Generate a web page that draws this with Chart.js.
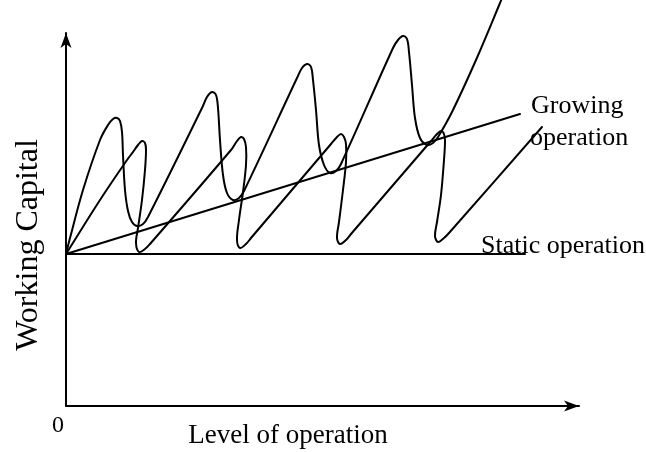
<!DOCTYPE html>
<html>
<head>
<meta charset="utf-8">
<script src="https://cdn.jsdelivr.net/npm/chart.js@4/dist/chart.umd.min.js"></script>
<style>
html,body{margin:0;padding:0;background:#fff;}
canvas{display:block;}
</style>
</head>
<body>
<canvas id="c" width="646" height="452"></canvas>
<script>
// ---- data (x = level of operation, y = working capital; arbitrary units) ----
const yAxisLine = [{x:0,y:0},{x:0,y:373}];
const xAxisLine = [{x:0,y:0},{x:513,y:0}];
const arrowTips = [{x:513,y:0},{x:0,y:373}];
const arrowRotations = [0,-90];
const staticLine = [{x:0,y:152},{x:459,y:152}];
const growingLine = [{x:0,y:152},{x:454,y:292}];
const waveGrowing = [
  {x:0,y:152},{x:4,y:168},{x:17,y:216},{x:34,y:266},{x:42,y:281},{x:47,y:287},
  {x:51,y:288},{x:54,y:285},{x:56,y:274},{x:57,y:251},{x:59,y:216},{x:62,y:195},{x:66,y:184},
  {x:71,y:180},{x:77,y:182},{x:82,y:189},
  {x:136,y:298},{x:141,y:309},{x:146,y:314},{x:150,y:311},{x:152,y:298},{x:154,y:266},{x:157,y:231},
  {x:161,y:213},{x:167,y:206},{x:173,y:208},{x:178,y:215},
  {x:231,y:328},{x:236,y:338},{x:241,y:342},{x:245,y:339},{x:247,y:326},{x:250,y:296},{x:253,y:261},
  {x:258,y:241},{x:264,y:233},{x:270,y:235},{x:275,y:242},
  {x:327,y:358},{x:332,y:366},{x:337,y:370},{x:341,y:367},{x:343,y:354},{x:346,y:321},{x:349,y:288},
  {x:354,y:268},{x:361,y:261},{x:367,y:263},{x:372,y:269},
  {x:386,y:294},{x:410,y:346},{x:434,y:403},{x:440,y:418}
];
const waveStatic = [
  {x:0,y:152},{x:34,y:206},{x:61,y:246},{x:67,y:254},{x:72,y:261},
  {x:76,y:265},{x:79,y:263},{x:80,y:256},{x:79,y:236},{x:76,y:206},{x:72,y:178},{x:70,y:163},
  {x:73,y:154},{x:79,y:157},{x:84,y:162},
  {x:165,y:256},{x:171,y:265},{x:175,y:269},{x:178,y:267},{x:180,y:259},{x:180,y:241},{x:177,y:214},
  {x:173,y:186},{x:171,y:166},{x:174,y:158},{x:180,y:162},{x:185,y:168},
  {x:265,y:262},{x:271,y:269},{x:275,y:272},{x:278,y:269},{x:280,y:262},{x:280,y:244},{x:277,y:216},
  {x:273,y:184},{x:271,y:168},{x:274,y:162},{x:280,y:166},{x:285,y:172},
  {x:365,y:265},{x:371,y:272},{x:375,y:275},{x:378,y:272},{x:379,y:265},{x:378,y:246},{x:375,y:211},
  {x:371,y:184},{x:369,y:170},{x:372,y:164},{x:378,y:168},{x:383,y:173},
  {x:476,y:279}
];
const labels = [
  {text:'Growing', x:465, y:293, size:26, align:'left', rot:0},
  {text:'operation', x:464, y:261, size:26, align:'left', rot:0},
  {text:'Static operation', x:415, y:153, size:26, align:'left', rot:0},
  {text:'0', x:-8, y:-26, size:24, align:'center', rot:0},
  {text:'Level of operation', x:222, y:-37, size:27, align:'center', rot:0},
  {text:'Working Capital', x:-37, y:161, size:32, align:'center', rot:-90}
];

// arrowhead marker (tip at canvas centre)
const arrow = document.createElement('canvas');
arrow.width = 34; arrow.height = 12;
(function(){
  const g = arrow.getContext('2d');
  g.fillStyle = '#000';
  g.beginPath();
  g.moveTo(17,6); g.lineTo(2,0.5); g.lineTo(6,6); g.lineTo(2,11.5); g.closePath();
  g.fill();
})();

const textPlugin = {
  id:'texts',
  afterDatasetsDraw(chart){
    const ctx = chart.ctx, xs = chart.scales.x, ys = chart.scales.y;
    labels.forEach(l=>{
      ctx.save();
      ctx.fillStyle = '#000';
      ctx.font = l.size + 'px "Liberation Serif", "DejaVu Serif", serif';
      const px = xs.getPixelForValue(l.x), py = ys.getPixelForValue(l.y);
      ctx.translate(px,py);
      if (l.rot) { ctx.rotate(l.rot*Math.PI/180); ctx.textBaseline='middle'; }
      else ctx.textBaseline='alphabetic';
      ctx.textAlign = l.align;
      ctx.fillText(l.text,0,0);
      ctx.restore();
    });
  }
};

const lineDs = (data, tension) => ({
  data, showLine:true, borderColor:'#000', borderWidth:2, pointRadius:0,
  tension: tension, fill:false, borderJoinStyle:'round', borderCapStyle:'round'
});

new Chart(document.getElementById('c'), {
  type:'scatter',
  data:{ datasets:[
    lineDs(yAxisLine,0),
    lineDs(xAxisLine,0),
    lineDs(staticLine,0),
    lineDs(growingLine,0),
    lineDs(waveGrowing,0.35),
    lineDs(waveStatic,0.35),
    { data:arrowTips, showLine:false, pointStyle:arrow, pointRadius:4,
      pointRotation:arrowRotations, backgroundColor:'#000', borderColor:'#000' }
  ]},
  options:{
    responsive:false, animation:false, events:[],
    layout:{padding:0, autoPadding:false},
    plugins:{legend:{display:false}, tooltip:{enabled:false}},
    scales:{
      x:{type:'linear', min:-66, max:580, display:false},
      y:{type:'linear', min:-46, max:406, display:false}
    }
  },
  plugins:[textPlugin]
});
</script>
</body>
</html>
